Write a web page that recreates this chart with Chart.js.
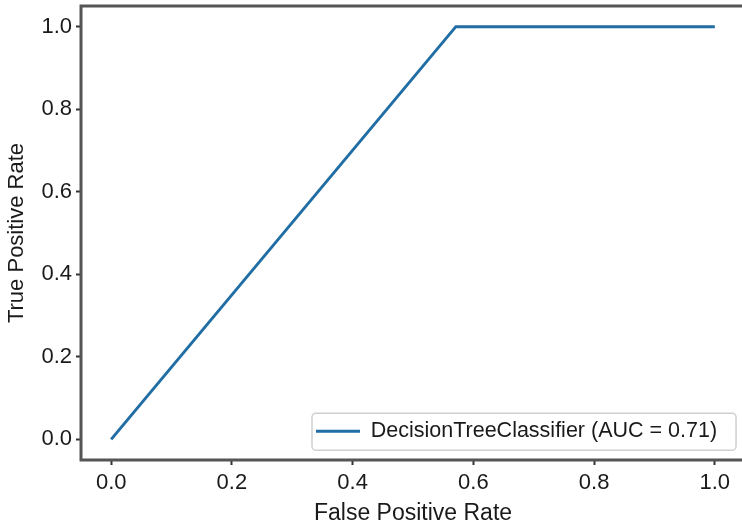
<!DOCTYPE html>
<html>
<head>
<meta charset="utf-8">
<script src="https://cdn.jsdelivr.net/npm/chart.js@4.4.0/dist/chart.umd.min.js"></script>
<style>
  html, body { margin: 0; padding: 0; background: #fff; overflow: hidden; width: 742px; height: 531px; }
  #wrap { position: absolute; left: 0; top: 0; width: 746px; height: 531px; }
</style>
</head>
<body>
<div id="wrap"><canvas id="roc"></canvas></div>
<script>
// ROC curve points
const fpr = [0, 0.571, 1];
const tpr = [0, 1, 1];
const xTicks = [0, 0.2, 0.4, 0.6, 0.8, 1.0];
const yTicks = [0, 0.2, 0.4, 0.6, 0.8, 1.0];
const seriesLabel = 'DecisionTreeClassifier (AUC = 0.71)';
const xTitle = 'False Positive Rate';
const yTitle = 'True Positive Rate';

const lineColor = '#216ea5';
const spineColor = '#555';
const textColor = '#1a1a1a';
const font = 'Liberation Sans, Arial, Helvetica, sans-serif';

// puts the legend at the lower right, draws the plot box and the legend frame
const framePlugin = {
  id: 'frame',
  afterLayout(chart) {
    const lg = chart.legend;
    lg.left = 306;
    lg.right = 740;
    lg.top = chart.chartArea.top;
    lg.bottom = 452;
    lg.width = lg.right - lg.left;
    lg.height = lg.bottom - lg.top;
  },
  beforeDraw(chart) {
    const lg = chart.legend;
    if (!lg.legendHitBoxes || !lg.legendHitBoxes.length) return;
    const hb = lg.legendHitBoxes[0];
    const ctx = chart.ctx;
    const cy = hb.top + hb.height / 2 + 0.5;
    const x0 = hb.left - 4, x1 = hb.left + hb.width + 19;
    const y0 = cy - 18.5, y1 = cy + 18.5;
    ctx.save();
    ctx.beginPath();
    ctx.roundRect(x0, y0, x1 - x0, y1 - y0, 4);
    ctx.fillStyle = '#fff';
    ctx.fill();
    ctx.lineWidth = 1.5;
    ctx.strokeStyle = '#cfcfcf';
    ctx.stroke();
    ctx.restore();
  },
  afterDraw(chart) {
    const {ctx, chartArea: ca} = chart;
    ctx.save();
    ctx.lineWidth = 3;
    ctx.strokeStyle = spineColor;
    ctx.strokeRect(ca.left, ca.top, ca.right - ca.left, ca.bottom - ca.top);
    ctx.restore();
  }
};

new Chart(document.getElementById('roc'), {
  type: 'line',
  data: {
    datasets: [{
      label: seriesLabel,
      data: fpr.map((x, i) => ({ x: x, y: tpr[i] })),
      borderColor: lineColor,
      backgroundColor: lineColor,
      borderWidth: 3,
      pointRadius: 0,
      tension: 0,
      fill: false
    }]
  },
  options: {
    responsive: true,
    maintainAspectRatio: false,
    animation: false,
    layout: { padding: { top: 6, right: 1, left: 0, bottom: 0 } },
    plugins: {
      tooltip: { enabled: false },
      legend: {
        position: 'chartArea',
        align: 'end',
        labels: {
          boxWidth: 44,
          boxHeight: 0,
          color: textColor,
          font: { family: font, size: 21.5 }
        }
      }
    },
    scales: {
      x: {
        type: 'linear',
        min: -0.05,
        max: 1.05,
        afterBuildTicks: s => { s.ticks = xTicks.map(v => ({ value: v })); },
        afterFit: s => { s.height = 71; s.paddingLeft = 0; s.paddingRight = 0; },
        border: { display: false },
        grid: { drawOnChartArea: false, drawTicks: true, tickLength: 5, tickColor: '#333', tickWidth: 2 },
        ticks: {
          callback: v => v.toFixed(1),
          color: textColor,
          padding: 5,
          maxRotation: 0,
          autoSkip: false,
          font: { family: font, size: 22 }
        },
        title: {
          display: true,
          text: xTitle,
          color: textColor,
          padding: { top: 0, bottom: 4 },
          font: { family: font, size: 23 }
        }
      },
      y: {
        type: 'linear',
        min: -0.05,
        max: 1.05,
        afterBuildTicks: s => { s.ticks = yTicks.map(v => ({ value: v })); },
        afterFit: s => { s.width = 81; s.paddingTop = 0; s.paddingBottom = 0; },
        border: { display: false },
        grid: { drawOnChartArea: false, drawTicks: true, tickLength: 5, tickColor: '#333', tickWidth: 2 },
        ticks: {
          callback: v => v.toFixed(1),
          color: textColor,
          padding: 4,
          autoSkip: false,
          font: { family: font, size: 22 }
        },
        title: {
          display: true,
          text: yTitle,
          color: textColor,
          padding: { top: 4, bottom: 0 },
          font: { family: font, size: 22 }
        }
      }
    }
  },
  plugins: [framePlugin]
});
</script>
</body>
</html>
